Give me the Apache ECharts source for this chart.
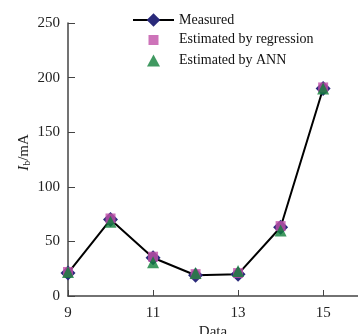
<!DOCTYPE html>
<html><head><meta charset="utf-8">
<script src="https://cdn.jsdelivr.net/npm/echarts@6/dist/echarts.min.js"></script>
<style>html,body{margin:0;padding:0;background:#fff}#c{width:358px;height:334px}</style>
</head><body><div id="c"></div>
<script>
const categories = [9, 10, 11, 12, 13, 14, 15];
const measured = [21, 70, 35, 19, 20, 63, 190];
const regression = [22, 71, 36, 20, 21, 64, 191];
const ann = [22, 68, 31, 21, 23, 60, 190];
const xTicks = [9, 11, 13, 15];

const pair = arr => categories.map((c, i) => [c, arr[i]]);
const font = 'Liberation Serif';
const chart = echarts.init(document.getElementById('c'));
chart.setOption({
  animation: false,
  textStyle: { fontFamily: font, color: '#222' },
  grid: { left: 68, right: 0, top: 23, bottom: 38, containLabel: false, outerBoundsMode: 'none' },
  legend: {
    orient: 'vertical', left: 127, top: 8, itemWidth: 41, itemHeight: 17, itemGap: 4,
    textStyle: { fontFamily: font, fontSize: 14, color: '#111' },
    data: [
      { name: 'Measured' },
      { name: 'Estimated by regression', icon: 'path://M0,0M41,17M15.5,4h10v10h-10z' },
      { name: 'Estimated by ANN', icon: 'path://M0,0M41,17M20.5,2.5L27,14.5H14z' }
    ]
  },
  xAxis: {
    type: 'value', min: 9, max: 15.82,
    name: 'Data', nameLocation: 'middle', nameGap: 29, nameMoveOverlap: false,
    nameTextStyle: { fontFamily: font, fontSize: 15, color: '#222' },
    axisLine: { lineStyle: { color: '#444', width: 1.5 } },
    axisTick: { inside: true, length: 6, customValues: xTicks, lineStyle: { color: '#444' } },
    axisLabel: { customValues: xTicks, fontFamily: font, fontSize: 15, color: '#222', margin: 10 },
    splitLine: { show: false }
  },
  yAxis: {
    type: 'value', min: 0, max: 250, interval: 50,
    name: '{i|I}{s|b}/mA', nameLocation: 'middle', nameGap: 36, nameRotate: 90, nameMoveOverlap: false,
    nameTextStyle: { fontFamily: font, fontSize: 15, color: '#222', padding: [0, 0, 0, 14],
      rich: { i: { fontFamily: font, fontStyle: 'italic', fontSize: 15 },
              s: { fontFamily: font, fontSize: 10, verticalAlign: 'bottom', padding: [6, 0, 0, 0] } } },
    axisLine: { show: true, lineStyle: { color: '#444', width: 1.5 } },
    axisTick: { show: true, inside: true, length: 7, lineStyle: { color: '#444' } },
    axisLabel: { fontFamily: font, fontSize: 15, color: '#222', margin: 8 },
    splitLine: { show: false }
  },
  series: [
    { name: 'Measured', type: 'line', data: pair(measured), symbol: 'diamond', symbolSize: 15,
      lineStyle: { color: '#000', width: 2 }, itemStyle: { color: '#2a2a7a' }, z: 2 },
    { name: 'Estimated by regression', type: 'scatter', data: pair(regression), symbol: 'rect', symbolSize: 10,
      itemStyle: { color: '#c050a8' }, z: 3 },
    { name: 'Estimated by ANN', type: 'scatter', data: pair(ann), symbol: 'triangle', symbolSize: 12,
      itemStyle: { color: '#10803a' }, z: 4 }
  ]
});
</script></body></html>
